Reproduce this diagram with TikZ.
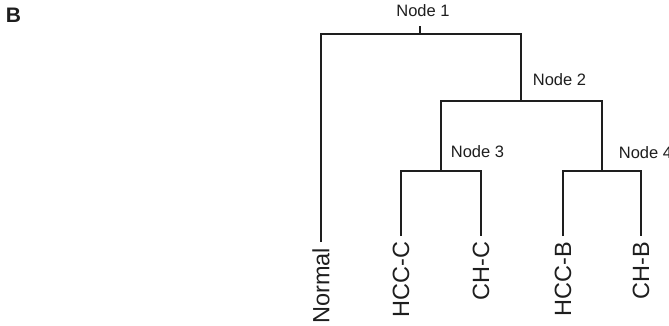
\documentclass[tikz,border=0pt]{standalone}
\usepackage{fontspec}
\setmainfont{Liberation Sans}
\usetikzlibrary{positioning}
\definecolor{inkc}{RGB}{30,30,30}

\begin{document}
\begin{tikzpicture}[x=1pt,y=-1pt,line width=1.8pt,inkc,
  leaf/.style={rotate=90,anchor=east,inner sep=5pt,font=\fontsize{23.5}{26}\selectfont},
  nlab/.style={inner sep=1pt,font=\fontsize{16.5}{19}\selectfont}]
\useasboundingbox (0,0) rectangle (669,325);
\node[font=\fontsize{21}{23}\selectfont\bfseries] (panel) at (13.5,15) {B};
% joints of the tree
\coordinate (n1) at (420,34);
\coordinate (n2) at (521,101);
\coordinate (n3) at (441,171);
\coordinate (n4) at (602,171);
\coordinate (top1) at (420,26);
% leaves, read bottom to top
\node[leaf] (normal) at (321,242) {Normal};
\foreach \x/\n/\l in {401/hccc/HCC-C, 481/chc/CH-C, 563/hccb/HCC-B, 641/chb/CH-B}
  \node[leaf] (\n) at (\x,236) {\l};
% node labels
\node[nlab] (lab1) at (423,11) {Node 1};
\node[nlab,anchor=south west] (lab2) at (531,88) {Node 2};
\node[nlab,anchor=south west] (lab3) at (449,160) {Node 3};
\node[nlab,anchor=south west] (lab4) at (617,161) {Node 4};
% branches
\draw (n1) -- (top1);
\draw (normal.east) |- (n1) -| (n2);
\draw (n3) |- (n2) -| (n4);
\draw (hccc.east) |- (n3) -| (chc.east);
\draw (hccb.east) |- (n4) -| (chb.east);
\end{tikzpicture}
\end{document}
